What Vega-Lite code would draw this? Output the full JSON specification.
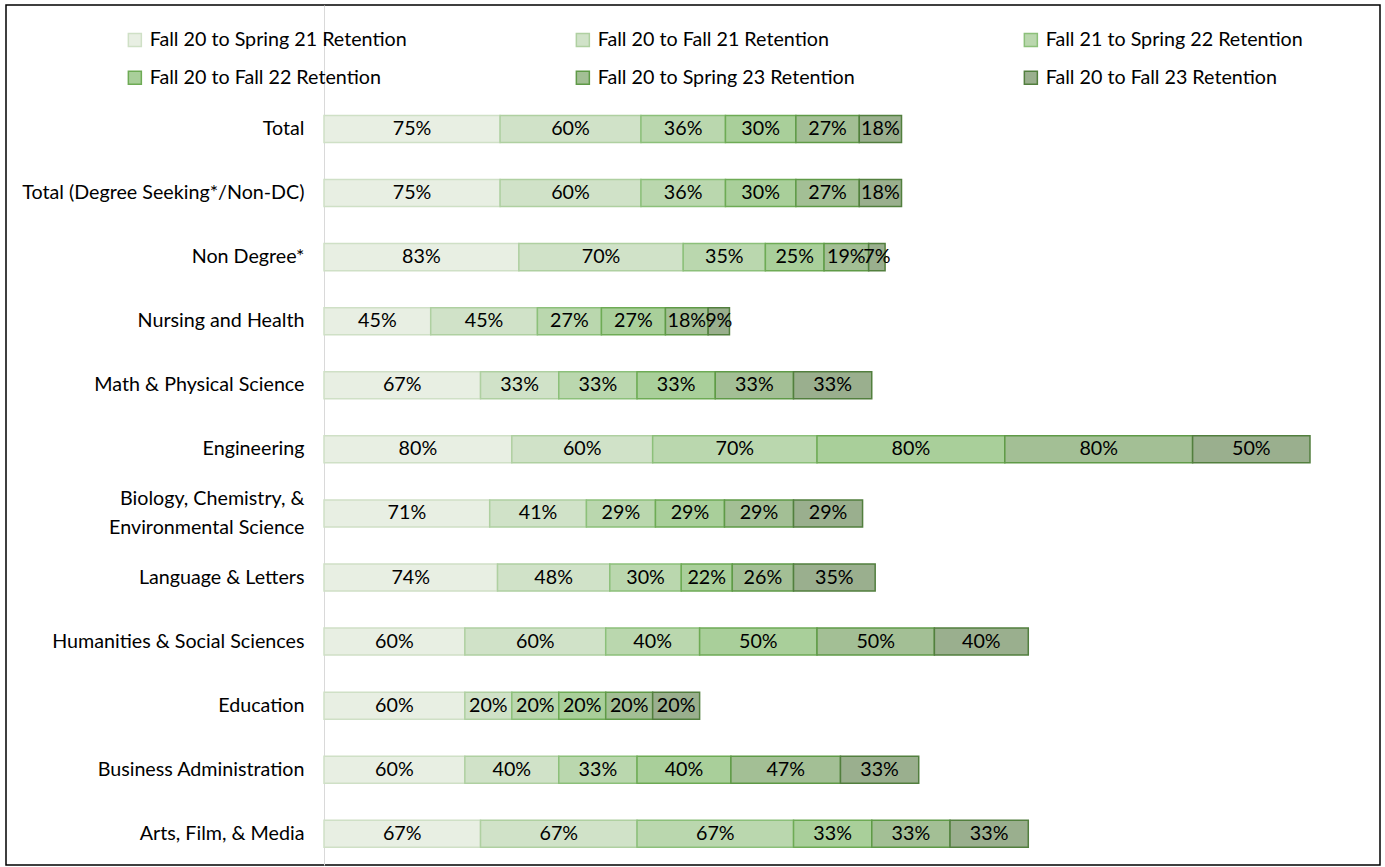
{
  "$schema": "https://vega.github.io/schema/vega-lite/v6.json",
  "width": 1374,
  "height": 860,
  "autosize": "none",
  "padding": {"left": 6, "top": 5, "right": 5, "bottom": 2},
  "background": "white",
  "config": {
    "font": "Lato",
    "view": {"stroke": "#000000", "strokeWidth": 1.5},
    "axis": {"labelFont": "Lato", "labelFontSize": 19.7, "labelColor": "#000000"},
    "legend": {"labelFont": "Lato", "labelFontSize": 19.7, "labelColor": "#000000"}
  },
  "data": {
    "values": [
      {"cat": "Total", "series": "Fall 20 to Spring 21 Retention", "s": 1, "v": 0.75},
      {"cat": "Total", "series": "Fall 20 to Fall 21 Retention", "s": 2, "v": 0.60},
      {"cat": "Total", "series": "Fall 21 to Spring 22 Retention", "s": 3, "v": 0.36},
      {"cat": "Total", "series": "Fall 20 to Fall 22 Retention", "s": 4, "v": 0.30},
      {"cat": "Total", "series": "Fall 20 to Spring 23 Retention", "s": 5, "v": 0.27},
      {"cat": "Total", "series": "Fall 20 to Fall 23 Retention", "s": 6, "v": 0.18},
      {"cat": "Total (Degree Seeking*/Non-DC)", "series": "Fall 20 to Spring 21 Retention", "s": 1, "v": 0.75},
      {"cat": "Total (Degree Seeking*/Non-DC)", "series": "Fall 20 to Fall 21 Retention", "s": 2, "v": 0.60},
      {"cat": "Total (Degree Seeking*/Non-DC)", "series": "Fall 21 to Spring 22 Retention", "s": 3, "v": 0.36},
      {"cat": "Total (Degree Seeking*/Non-DC)", "series": "Fall 20 to Fall 22 Retention", "s": 4, "v": 0.30},
      {"cat": "Total (Degree Seeking*/Non-DC)", "series": "Fall 20 to Spring 23 Retention", "s": 5, "v": 0.27},
      {"cat": "Total (Degree Seeking*/Non-DC)", "series": "Fall 20 to Fall 23 Retention", "s": 6, "v": 0.18},
      {"cat": "Non Degree*", "series": "Fall 20 to Spring 21 Retention", "s": 1, "v": 0.83},
      {"cat": "Non Degree*", "series": "Fall 20 to Fall 21 Retention", "s": 2, "v": 0.70},
      {"cat": "Non Degree*", "series": "Fall 21 to Spring 22 Retention", "s": 3, "v": 0.35},
      {"cat": "Non Degree*", "series": "Fall 20 to Fall 22 Retention", "s": 4, "v": 0.25},
      {"cat": "Non Degree*", "series": "Fall 20 to Spring 23 Retention", "s": 5, "v": 0.19},
      {"cat": "Non Degree*", "series": "Fall 20 to Fall 23 Retention", "s": 6, "v": 0.07},
      {"cat": "Nursing and Health", "series": "Fall 20 to Spring 21 Retention", "s": 1, "v": 0.4545},
      {"cat": "Nursing and Health", "series": "Fall 20 to Fall 21 Retention", "s": 2, "v": 0.4545},
      {"cat": "Nursing and Health", "series": "Fall 21 to Spring 22 Retention", "s": 3, "v": 0.2727},
      {"cat": "Nursing and Health", "series": "Fall 20 to Fall 22 Retention", "s": 4, "v": 0.2727},
      {"cat": "Nursing and Health", "series": "Fall 20 to Spring 23 Retention", "s": 5, "v": 0.1818},
      {"cat": "Nursing and Health", "series": "Fall 20 to Fall 23 Retention", "s": 6, "v": 0.0909},
      {"cat": "Math & Physical Science", "series": "Fall 20 to Spring 21 Retention", "s": 1, "v": 0.6667},
      {"cat": "Math & Physical Science", "series": "Fall 20 to Fall 21 Retention", "s": 2, "v": 0.3333},
      {"cat": "Math & Physical Science", "series": "Fall 21 to Spring 22 Retention", "s": 3, "v": 0.3333},
      {"cat": "Math & Physical Science", "series": "Fall 20 to Fall 22 Retention", "s": 4, "v": 0.3333},
      {"cat": "Math & Physical Science", "series": "Fall 20 to Spring 23 Retention", "s": 5, "v": 0.3333},
      {"cat": "Math & Physical Science", "series": "Fall 20 to Fall 23 Retention", "s": 6, "v": 0.3333},
      {"cat": "Engineering", "series": "Fall 20 to Spring 21 Retention", "s": 1, "v": 0.80},
      {"cat": "Engineering", "series": "Fall 20 to Fall 21 Retention", "s": 2, "v": 0.60},
      {"cat": "Engineering", "series": "Fall 21 to Spring 22 Retention", "s": 3, "v": 0.70},
      {"cat": "Engineering", "series": "Fall 20 to Fall 22 Retention", "s": 4, "v": 0.80},
      {"cat": "Engineering", "series": "Fall 20 to Spring 23 Retention", "s": 5, "v": 0.80},
      {"cat": "Engineering", "series": "Fall 20 to Fall 23 Retention", "s": 6, "v": 0.50},
      {"cat": "Biology, Chemistry, & Environmental Science", "series": "Fall 20 to Spring 21 Retention", "s": 1, "v": 0.7059},
      {"cat": "Biology, Chemistry, & Environmental Science", "series": "Fall 20 to Fall 21 Retention", "s": 2, "v": 0.4118},
      {"cat": "Biology, Chemistry, & Environmental Science", "series": "Fall 21 to Spring 22 Retention", "s": 3, "v": 0.2941},
      {"cat": "Biology, Chemistry, & Environmental Science", "series": "Fall 20 to Fall 22 Retention", "s": 4, "v": 0.2941},
      {"cat": "Biology, Chemistry, & Environmental Science", "series": "Fall 20 to Spring 23 Retention", "s": 5, "v": 0.2941},
      {"cat": "Biology, Chemistry, & Environmental Science", "series": "Fall 20 to Fall 23 Retention", "s": 6, "v": 0.2941},
      {"cat": "Language & Letters", "series": "Fall 20 to Spring 21 Retention", "s": 1, "v": 0.7391},
      {"cat": "Language & Letters", "series": "Fall 20 to Fall 21 Retention", "s": 2, "v": 0.4783},
      {"cat": "Language & Letters", "series": "Fall 21 to Spring 22 Retention", "s": 3, "v": 0.3043},
      {"cat": "Language & Letters", "series": "Fall 20 to Fall 22 Retention", "s": 4, "v": 0.2174},
      {"cat": "Language & Letters", "series": "Fall 20 to Spring 23 Retention", "s": 5, "v": 0.2609},
      {"cat": "Language & Letters", "series": "Fall 20 to Fall 23 Retention", "s": 6, "v": 0.3478},
      {"cat": "Humanities & Social Sciences", "series": "Fall 20 to Spring 21 Retention", "s": 1, "v": 0.60},
      {"cat": "Humanities & Social Sciences", "series": "Fall 20 to Fall 21 Retention", "s": 2, "v": 0.60},
      {"cat": "Humanities & Social Sciences", "series": "Fall 21 to Spring 22 Retention", "s": 3, "v": 0.40},
      {"cat": "Humanities & Social Sciences", "series": "Fall 20 to Fall 22 Retention", "s": 4, "v": 0.50},
      {"cat": "Humanities & Social Sciences", "series": "Fall 20 to Spring 23 Retention", "s": 5, "v": 0.50},
      {"cat": "Humanities & Social Sciences", "series": "Fall 20 to Fall 23 Retention", "s": 6, "v": 0.40},
      {"cat": "Education", "series": "Fall 20 to Spring 21 Retention", "s": 1, "v": 0.60},
      {"cat": "Education", "series": "Fall 20 to Fall 21 Retention", "s": 2, "v": 0.20},
      {"cat": "Education", "series": "Fall 21 to Spring 22 Retention", "s": 3, "v": 0.20},
      {"cat": "Education", "series": "Fall 20 to Fall 22 Retention", "s": 4, "v": 0.20},
      {"cat": "Education", "series": "Fall 20 to Spring 23 Retention", "s": 5, "v": 0.20},
      {"cat": "Education", "series": "Fall 20 to Fall 23 Retention", "s": 6, "v": 0.20},
      {"cat": "Business Administration", "series": "Fall 20 to Spring 21 Retention", "s": 1, "v": 0.60},
      {"cat": "Business Administration", "series": "Fall 20 to Fall 21 Retention", "s": 2, "v": 0.40},
      {"cat": "Business Administration", "series": "Fall 21 to Spring 22 Retention", "s": 3, "v": 0.3333},
      {"cat": "Business Administration", "series": "Fall 20 to Fall 22 Retention", "s": 4, "v": 0.40},
      {"cat": "Business Administration", "series": "Fall 20 to Spring 23 Retention", "s": 5, "v": 0.4667},
      {"cat": "Business Administration", "series": "Fall 20 to Fall 23 Retention", "s": 6, "v": 0.3333},
      {"cat": "Arts, Film, & Media", "series": "Fall 20 to Spring 21 Retention", "s": 1, "v": 0.6667},
      {"cat": "Arts, Film, & Media", "series": "Fall 20 to Fall 21 Retention", "s": 2, "v": 0.6667},
      {"cat": "Arts, Film, & Media", "series": "Fall 21 to Spring 22 Retention", "s": 3, "v": 0.6667},
      {"cat": "Arts, Film, & Media", "series": "Fall 20 to Fall 22 Retention", "s": 4, "v": 0.3333},
      {"cat": "Arts, Film, & Media", "series": "Fall 20 to Spring 23 Retention", "s": 5, "v": 0.3333},
      {"cat": "Arts, Film, & Media", "series": "Fall 20 to Fall 23 Retention", "s": 6, "v": 0.3333}
    ]
  },
  "encoding": {
    "y": {
      "field": "cat",
      "type": "nominal",
      "sort": null,
      "scale": {"paddingInner": 0.578, "paddingOuter": 1.0, "align": 0.862},
      "axis": {
        "title": null,
        "orient": "left",
        "offset": -318,
        "ticks": false,
        "labelPadding": 20,
        "domainColor": "#d9d9d9",
        "domainWidth": 1,
        "labelLimit": 400,
        "labelLineHeight": 29,
        "labelOffset": {"condition": {"test": "datum.value == 'Biology, Chemistry, & Environmental Science'", "value": -14}, "value": 0},
        "labelExpr": "datum.label == 'Biology, Chemistry, & Environmental Science' ? ['Biology, Chemistry, &', 'Environmental Science'] : datum.label"
      }
    },
    "x": {
      "field": "v",
      "type": "quantitative",
      "stack": "zero",
      "scale": {"domain": [-1.3546, 4.4982], "nice": false, "zero": false},
      "axis": null
    },
    "order": {"field": "s", "type": "quantitative"}
  },
  "layer": [
    {
      "mark": {"type": "bar", "strokeWidth": 1.5},
      "encoding": {
        "fill": {
          "field": "series",
          "type": "nominal",
          "scale": {
            "domain": ["Fall 20 to Spring 21 Retention", "Fall 20 to Fall 21 Retention", "Fall 21 to Spring 22 Retention", "Fall 20 to Fall 22 Retention", "Fall 20 to Spring 23 Retention", "Fall 20 to Fall 23 Retention"],
            "range": ["#e8efe3", "#d0e2c8", "#bad7ae", "#a9cf9a", "#a3bf95", "#9aaf8e"]
          },
          "legend": {
            "title": null,
            "orient": "none",
            "legendX": 119,
            "legendY": 25,
            "direction": "horizontal",
            "columns": 3,
            "gridAlign": "all",
            "columnPadding": 166,
            "rowPadding": 17,
            "symbolType": "square",
            "symbolSize": 169,
            "symbolStrokeWidth": 1.5,
            "labelOffset": 5,
            "labelLimit": 400
          }
        },
        "stroke": {
          "field": "series",
          "type": "nominal",
          "scale": {
            "domain": ["Fall 20 to Spring 21 Retention", "Fall 20 to Fall 21 Retention", "Fall 21 to Spring 22 Retention", "Fall 20 to Fall 22 Retention", "Fall 20 to Spring 23 Retention", "Fall 20 to Fall 23 Retention"],
            "range": ["#cfe0c6", "#afd0a1", "#8cc07a", "#6eab55", "#5f9a47", "#527f3e"]
          },
          "legend": {
            "title": null,
            "orient": "none",
            "legendX": 119,
            "legendY": 25,
            "direction": "horizontal",
            "columns": 3,
            "gridAlign": "all",
            "columnPadding": 166,
            "rowPadding": 17,
            "symbolType": "square",
            "symbolSize": 169,
            "symbolStrokeWidth": 1.5,
            "labelOffset": 5,
            "labelLimit": 400
          }
        }
      }
    },
    {
      "mark": {"type": "text", "fontSize": 19.7, "font": "Lato", "color": "#000000", "baseline": "middle", "align": "center"},
      "encoding": {
        "x": {"field": "v", "type": "quantitative", "stack": "zero", "bandPosition": 0.5},
        "text": {"field": "v", "type": "quantitative", "format": ".0%"}
      }
    }
  ]
}
